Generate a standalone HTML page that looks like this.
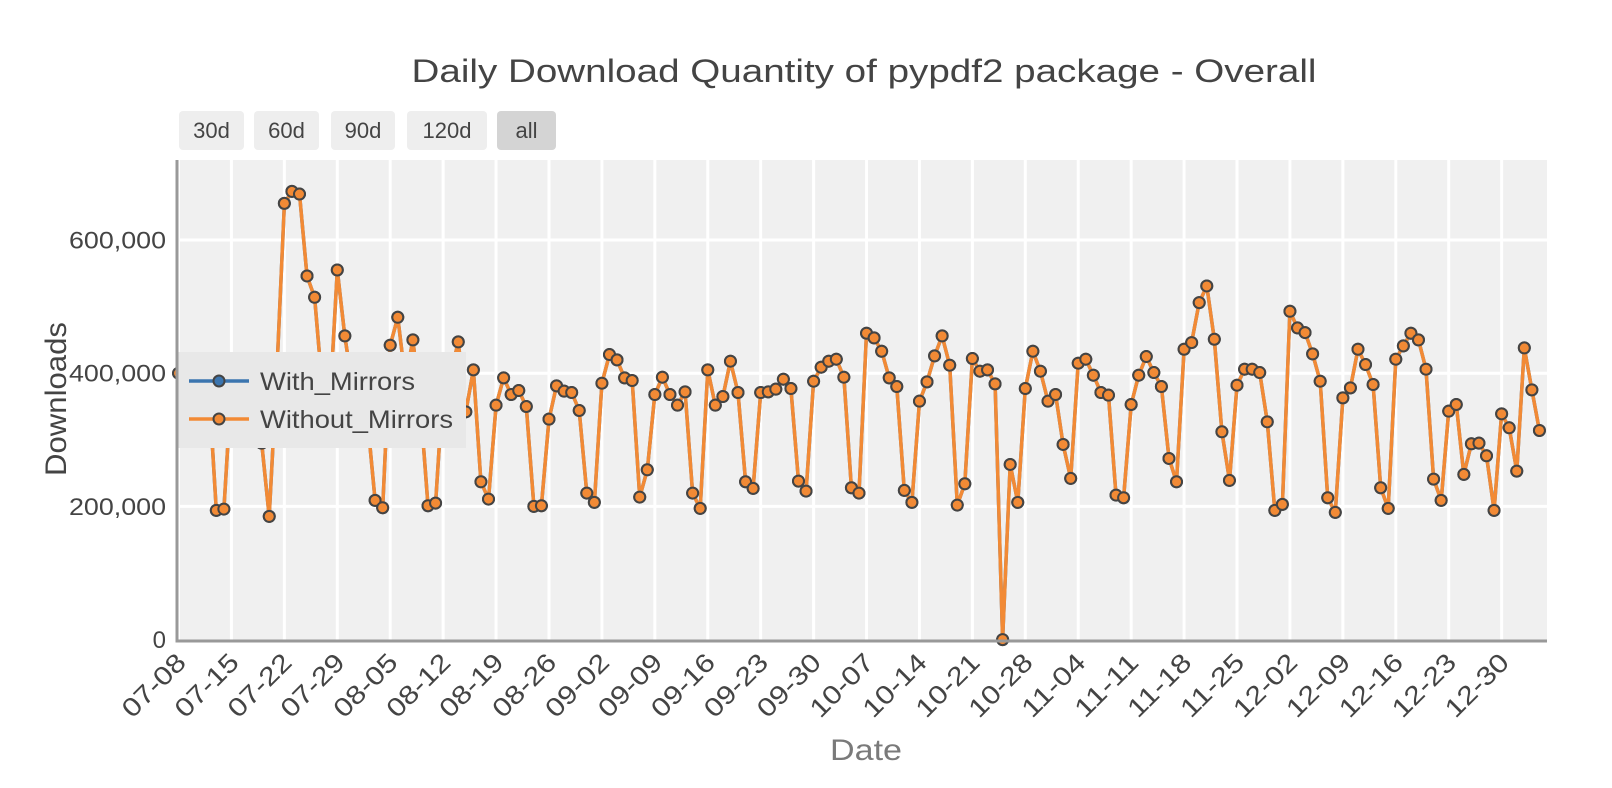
<!DOCTYPE html>
<html><head><meta charset="utf-8">
<style>
html,body{margin:0;padding:0;background:#fff;}
body{width:1612px;height:788px;overflow:hidden;font-family:"Liberation Sans",sans-serif;}
.btn{position:absolute;top:111px;height:39px;background:#eeeeee;border-radius:4px;color:#444;font-size:22px;line-height:39px;text-align:center;}
</style></head>
<body>
<svg id="chart" width="1612" height="788" style="position:absolute;left:0;top:0" xmlns="http://www.w3.org/2000/svg">
<text x="864" y="82" text-anchor="middle" font-size="32" fill="#444" font-family="Liberation Sans, sans-serif" textLength="905" lengthAdjust="spacingAndGlyphs">Daily Download Quantity of pypdf2 package - Overall</text>
<text x="866" y="760" text-anchor="middle" font-size="30" fill="#7a7a7a" font-family="Liberation Sans, sans-serif" textLength="72" lengthAdjust="spacingAndGlyphs">Date</text>
<text x="0" y="0" transform="translate(66,399) rotate(-90)" text-anchor="middle" font-size="30" fill="#444" font-family="Liberation Sans, sans-serif" textLength="154" lengthAdjust="spacingAndGlyphs">Downloads</text>
<g id="plot"></g>
</svg>
<div class="btn" style="left:179px;width:65px;">30d</div>
<div class="btn" style="left:254px;width:65px;">60d</div>
<div class="btn" style="left:331px;width:64px;">90d</div>
<div class="btn" style="left:407px;width:80px;">120d</div>
<div class="btn" style="left:497px;width:59px;background:#d4d4d4;">all</div>
<script>
const startDate = "2023-07-08";
const withoutMirrors = [400,390,410,400,380,194,196,380,390,400,380,295,185,400,655,673,669,546,514,380,350,555,456,380,360,330,209,198,442,484,390,450,350,201,205,380,400,447,342,405,237,211,352,393,368,374,350,200,201,331,381,373,371,344,220,206,385,428,420,393,389,214,255,368,394,368,352,372,220,197,405,352,365,418,371,237,227,371,372,376,391,377,238,223,388,409,418,421,394,228,220,460,453,433,393,380,224,206,358,387,426,456,412,202,234,422,403,405,384,0,263,206,377,433,403,358,368,293,242,415,421,397,371,367,217,213,353,397,425,401,380,272,237,436,446,506,531,451,312,239,382,406,406,401,327,194,203,493,468,461,429,388,213,191,363,378,436,413,383,228,197,421,441,460,450,406,241,209,343,353,248,294,295,276,194,339,318,253,438,375,314];
const withMirrors = withoutMirrors.slice();
const xTickLabels = ["07-08","07-15","07-22","07-29","08-05","08-12","08-19","08-26","09-02","09-09","09-16","09-23","09-30","10-07","10-14","10-21","10-28","11-04","11-11","11-18","11-25","12-02","12-09","12-16","12-23","12-30"];
const yTicks = [0,200000,400000,600000];
const yTickLabels = ["0","200,000","400,000","600,000"];

const NS="http://www.w3.org/2000/svg";
const L=177,R=1547,T=160,B=641;
const DAY=86400000;
const t0=Date.parse(startDate+"T00:00:00Z");
const dMin=-0.2,dMax=181.0;
function xScale(ms){const d=(ms-t0)/DAY;return L+(d-dMin)/(dMax-dMin)*(R-L);}
function yScale(v){return 639.6-v*(133.2/200000);}
const dates=withoutMirrors.map((_,i)=>t0+i*DAY);
const tickDates=xTickLabels.map(s=>Date.parse("2023-"+s+"T00:00:00Z"));
const g=document.getElementById('plot');
function mk(tag,attrs){const e=document.createElementNS(NS,tag);for(const k in attrs)e.setAttribute(k,attrs[k]);return e;}

const bg=mk('rect',{x:L,y:T,width:R-L,height:B-T,fill:'#f0f0f0'});


g.appendChild(bg);

tickDates.forEach((ms,i)=>{
  const x=xScale(ms);
  const ln=mk('line',{x1:x,x2:x,y1:T,y2:B,stroke:'#fff','stroke-width':3});
  
  
  g.appendChild(ln);
  const tx=mk('text',{x:0,y:0,transform:`translate(${x+9},${B+23}) rotate(-45)`,'text-anchor':'end','font-size':26,fill:'#444','font-family':'Liberation Sans, sans-serif',textLength:78,lengthAdjust:'spacingAndGlyphs'});
  tx.textContent=xTickLabels[i];
  
  
  g.appendChild(tx);
});
yTicks.forEach((v,i)=>{
  const y=yScale(v);
  if(v>0){
    const ln=mk('line',{x1:L,x2:R,y1:y,y2:y,stroke:'#fff','stroke-width':3});
    
    
    g.appendChild(ln);
  }
  const attrs={x:166,y:y+8.5,'text-anchor':'end','font-size':24,fill:'#444','font-family':'Liberation Sans, sans-serif'};
  if(yTickLabels[i].length>3){attrs.textLength=97;attrs.lengthAdjust='spacingAndGlyphs';}
  const tx=mk('text',attrs);
  tx.textContent=yTickLabels[i];
  
  
  g.appendChild(tx);
});

function series(vals,color,name){
  const grp=mk('g',{});
  
  
  const pts=vals.map((v,i)=>xScale(dates[i]).toFixed(1)+','+yScale(v*1000).toFixed(1)).join(' ');
  const pl=mk('polyline',{points:pts,fill:'none',stroke:color,'stroke-width':3.5,'stroke-linejoin':'round'});
  
  
  grp.appendChild(pl);
  vals.forEach((v,i)=>{
    const c=mk('circle',{cx:xScale(dates[i]),cy:yScale(v*1000),r:5.5,fill:color,stroke:'#444','stroke-width':2});
    
    
    grp.appendChild(c);
  });
  g.appendChild(grp);
}
series(withMirrors,'#3b75af','with-mirrors');
series(withoutMirrors,'#f28a35','without-mirrors');

const leg=mk('g',{});


const lb=mk('rect',{x:176,y:352,width:290,height:96,fill:'#e8e8e8'});


leg.appendChild(lb);
[['With_Mirrors','#3b75af',381,155],['Without_Mirrors','#f28a35',419,193]].forEach(([n,c,y,w])=>{
  const e=mk('g',{});
  
  
  e.appendChild(mk('line',{x1:189,x2:249,y1:y,y2:y,stroke:c,'stroke-width':3.5}));
  e.appendChild(mk('circle',{cx:219,cy:y,r:5.5,fill:c,stroke:'#444','stroke-width':2}));
  const t=mk('text',{x:260,y:y+9,'font-size':25,fill:'#444','font-family':'Liberation Sans, sans-serif',textLength:w,lengthAdjust:'spacingAndGlyphs'});
  t.textContent=n;
  e.appendChild(t);
  leg.appendChild(e);
});
g.appendChild(leg);

const ax=mk('path',{d:`M${L},${T} L${L},${B} L${R},${B}`,fill:'none',stroke:'#999','stroke-width':3});


g.appendChild(ax);
</script>
</body></html>
